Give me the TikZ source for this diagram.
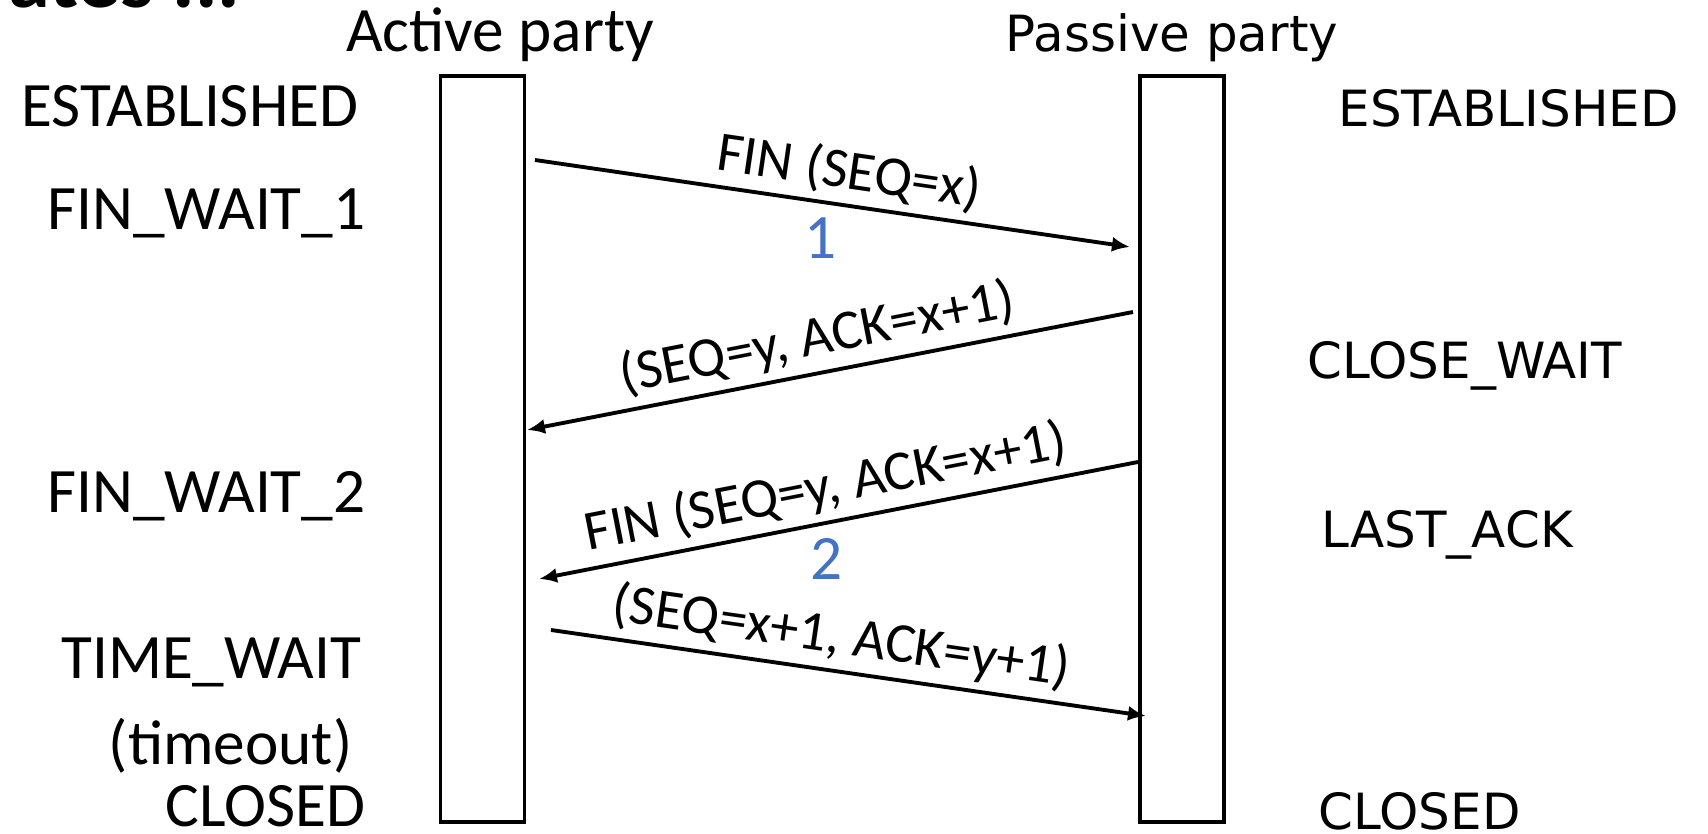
\documentclass[tikz,border=0pt]{standalone}
\usepackage{fontspec}
\setmainfont{Carlito}
\newfontfamily\widefont{DejaVu Sans}
\definecolor{numblue}{RGB}{68,114,196}
\usetikzlibrary{arrows.meta, positioning, calc}

\begin{document}
\begin{tikzpicture}[
  lane/.style={draw, line width=0.9pt, minimum width=0.84cm, minimum height=7.46cm, inner sep=0pt},
  lstate/.style={font=\fontsize{18}{22}\selectfont, anchor=base east, inner sep=0pt},
  rstate/.style={font=\widefont\fontsize{14.2}{17}\selectfont, anchor=base west, inner sep=0pt},
  msg/.style={line width=1.1pt, -{Latex[length=1.8mm,width=1.5mm]}},
  lbl/.style={font=\fontsize{16}{19}\selectfont, sloped, above, inner sep=2pt},
  num/.style={font=\fontsize{18}{22}\selectfont, text=numblue, below, inner sep=4pt}
]
\useasboundingbox (0,0) rectangle (17.08,8.34);

% title left over from the slide
\node[anchor=base east, inner sep=0pt, font=\bfseries\fontsize{24}{28}\selectfont] (title) at (2.41,8.265) {ates ...};

% the two parties
\node[lane] (act) at (4.825,3.85) {};
\node[lane] (pas) at (11.82,3.85) {};
\node[anchor=base, font=\fontsize{18}{22}\selectfont] (actname) at (5.00,7.82) {Active party};
\node[anchor=base, font=\widefont\fontsize{14.2}{17}\selectfont] (pasname) at (11.72,7.82) {Passive party};

% states of the active party
\foreach \x/\y/\txt/\nm in {3.59/7.07/ESTABLISHED/la, 3.66/6.04/FIN\_WAIT\_1/lb,
    3.66/3.21/FIN\_WAIT\_2/lc, 3.62/1.55/TIME\_WAIT/ld, 3.53/0.69/(timeout)/le, 3.66/0.07/CLOSED/lf} {
  \node[lstate] (\nm) at (\x,\y) {\txt};
}

% states of the passive party
\foreach \x/\y/\txt/\nm in {13.38/7.07/ESTABLISHED/ra, 13.07/4.55/CLOSE\_WAIT/rb,
    13.21/2.86/LAST\_ACK/rc, 13.18/0.04/CLOSED/rd} {
  \node[rstate] (\nm) at (\x,\y) {\txt};
}

% segments
\coordinate (fin1s) at (5.35,6.74);
\coordinate (fin1e) at (11.30,5.87);
\coordinate (ack1s) at (11.33,5.22);
\coordinate (ack1e) at (5.27,4.04);
\coordinate (fin2s) at (11.38,3.72);
\coordinate (fin2e) at (5.39,2.55);
\coordinate (ack2s) at (5.51,2.04);
\coordinate (ack2e) at (11.46,1.18);

\draw[msg] (fin1s) -- node[lbl, pos=0.52] {FIN (SEQ=x)} node[num, pos=0.48] {1} (fin1e);
\draw[msg] (ack1s) -- node[lbl, pos=0.51] {(SEQ=y, ACK=x+1)} (ack1e);
\draw[msg] (fin2s) -- node[lbl, pos=0.51] {FIN (SEQ=y, ACK=x+1)} node[num, pos=0.52] {2} (fin2e);
\draw[msg] (ack2s) -- node[lbl, pos=0.48] {(SEQ=x+1, ACK=y+1)} (ack2e);
\end{tikzpicture}
\end{document}
